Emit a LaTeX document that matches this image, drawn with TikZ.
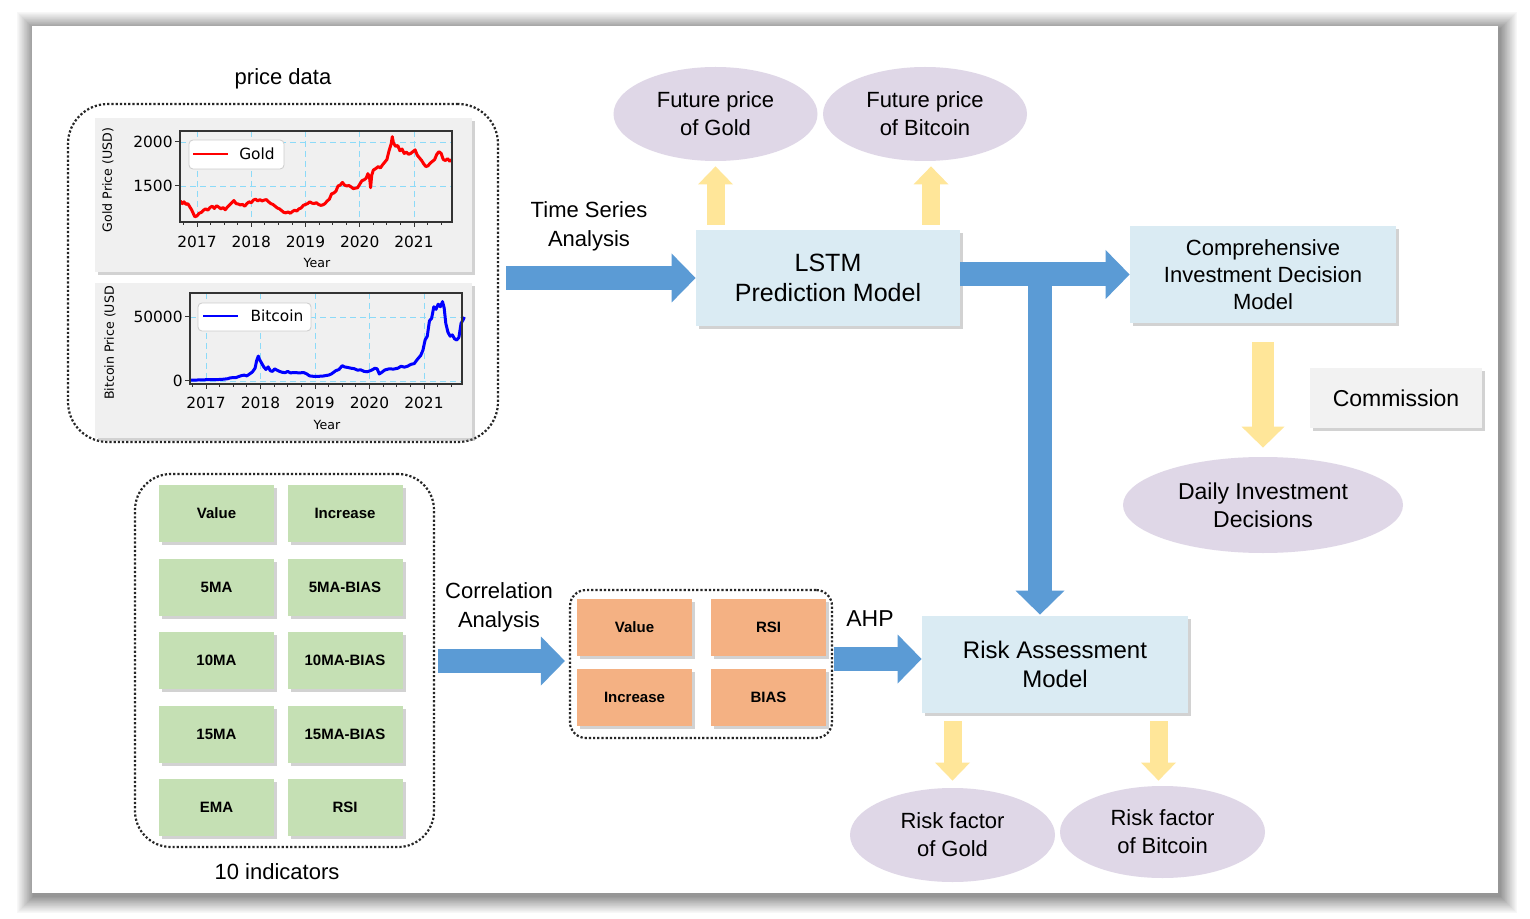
\documentclass[tikz,border=0pt]{standalone}
\usepackage{fontspec}
\setmainfont{Liberation Sans}
\newfontfamily\plotfont{DejaVu Sans}
\usetikzlibrary{shapes.geometric, arrows.meta, positioning, shadows}

\definecolor{indgreen}{HTML}{C5E0B4}
\definecolor{selorange}{HTML}{F4B183}
\definecolor{modelblue}{HTML}{DAEBF3}
\definecolor{outpurple}{HTML}{DFD7E7}
\definecolor{arrowblue}{HTML}{5B9BD5}
\definecolor{arrowyellow}{HTML}{FFE699}
\definecolor{commgray}{HTML}{F2F2F2}
\definecolor{panelgray}{HTML}{F0F0F0}

\begin{document}
\begin{tikzpicture}[x=0.5pt, y=-0.5pt,
    boxshadow/.style={drop shadow={shadow xshift=1.5pt, shadow yshift=-1.5pt, opacity=0.35}},
    dotbox/.style={draw=black!85, densely dotted, line width=1.1pt, inner sep=0pt},
    panel/.style={fill=panelgray, boxshadow, inner sep=0pt, minimum width=188.5pt, minimum height=77pt},
    indbox/.style={fill=indgreen, boxshadow, inner sep=0pt, minimum width=57.5pt, minimum height=28.5pt,
        font=\fontsize{7.5}{9}\selectfont\bfseries},
    selbox/.style={indbox, fill=selorange},
    model/.style={fill=modelblue, boxshadow, inner sep=0pt, minimum width=133pt, minimum height=48.5pt, align=center},
    outcome/.style={ellipse, fill=outpurple, inner sep=0pt, minimum width=102pt, minimum height=47pt,
        align=center, font=\fontsize{11}{14}\selectfont},
    lbl/.style={align=center, font=\fontsize{11}{14.5}\selectfont},
    bluearrow/.style={draw=arrowblue, line width=12pt, -{Triangle[length=12pt, width=24.5pt, line width=0pt]}},
    yellowarrow/.style={draw=arrowyellow, line width=9pt, -{Triangle[length=9pt, width=17.5pt, line width=0pt]}},
    bigyellowarrow/.style={draw=arrowyellow, line width=11pt, -{Triangle[length=10.5pt, width=21.5pt, line width=0pt]}},
    ticklbl/.style={font=\plotfont\fontsize{7.7}{9}\selectfont, inner sep=0pt},
    axlbl/.style={font=\plotfont\fontsize{6.3}{7}\selectfont, inner sep=0pt},
    gridln/.style={cyan!45, densely dashed, line width=0.35pt}]

    \useasboundingbox (0,0) rectangle (1530,919);

    % Page with its shadow
    \foreach \d [evaluate=\d as \c using {int(44-2.4*\d)}] in {18,17,...,1}
        \fill[black!\c] (34-\d,29-\d) rectangle (1500+\d,896+\d);
    \fill[white] (32,26) rectangle (1498,893);

    % Price data
    \node[lbl] (pricelbl) at (283,79) {price data};
    \node[dotbox, rounded corners=20pt, minimum width=215pt, minimum height=169pt] (pricebox) at (283,273) {};

    % Gold price chart
    \node[panel] (goldpanel) at (283.5,195) {};
    \foreach \i in {0,...,4} \draw[gridln] (197+54.25*\i,131) -- (197+54.25*\i,222);
    \foreach \v in {142,186} \draw[gridln] (180,\v) -- (452,\v);
    \begin{scope}[shift={(197,318)}, x=27.125pt, y=0.044pt]
        \draw[red, line width=1.5pt, line join=round] plot coordinates {
            (-0.31,1330) (-0.27,1300) (-0.24,1320) (-0.2,1290) (-0.17,1300) (-0.13,1260) (-0.1,1230)
            (-0.07,1190) (-0.04,1150) (0.0,1160) (0.04,1190) (0.08,1200) (0.12,1225) (0.16,1240)
            (0.2,1225) (0.24,1255) (0.28,1270) (0.32,1245) (0.36,1275) (0.4,1260) (0.44,1240)
            (0.48,1255) (0.52,1230) (0.56,1260) (0.6,1285) (0.64,1310) (0.68,1335) (0.72,1300)
            (0.76,1295) (0.8,1285) (0.84,1290) (0.88,1270) (0.92,1300) (0.96,1320) (1.0,1310)
            (1.04,1340) (1.08,1350) (1.12,1330) (1.16,1345) (1.2,1330) (1.24,1340) (1.28,1345)
            (1.32,1320) (1.36,1300) (1.4,1290) (1.44,1270) (1.48,1250) (1.52,1240) (1.56,1220)
            (1.6,1200) (1.64,1195) (1.68,1205) (1.72,1190) (1.76,1210) (1.8,1225) (1.84,1215)
            (1.88,1240) (1.92,1250) (1.96,1280) (2.0,1290) (2.04,1300) (2.08,1320) (2.12,1305)
            (2.16,1300) (2.2,1310) (2.24,1290) (2.28,1280) (2.32,1285) (2.36,1300) (2.4,1330)
            (2.44,1350) (2.48,1410) (2.52,1420) (2.56,1440) (2.6,1500) (2.64,1510) (2.68,1540)
            (2.72,1510) (2.76,1500) (2.8,1505) (2.84,1490) (2.88,1470) (2.92,1475) (2.96,1480)
            (3.0,1520) (3.04,1560) (3.08,1570) (3.12,1590) (3.15,1640) (3.18,1600) (3.2,1480)
            (3.22,1620) (3.25,1680) (3.3,1700) (3.34,1720) (3.38,1705) (3.42,1740) (3.46,1770)
            (3.5,1800) (3.54,1900) (3.58,1980) (3.6,2060) (3.62,1990) (3.66,1950) (3.7,1960)
            (3.74,1900) (3.78,1920) (3.82,1870) (3.86,1885) (3.9,1860) (3.94,1870) (3.98,1890)
            (4.02,1910) (4.06,1850) (4.1,1820) (4.14,1790) (4.18,1750) (4.22,1720) (4.26,1730)
            (4.3,1760) (4.34,1780) (4.38,1800) (4.42,1860) (4.46,1890) (4.5,1870) (4.54,1800)
            (4.58,1790) (4.62,1810) (4.66,1780) (4.7,1800)};
    \end{scope}
    \draw[black!80, line width=0.6pt] (180,131) rectangle (452,222);
    \foreach \i in {-1,...,18} \draw[black!80, line width=0.4pt] (197+13.5625*\i,222) -- ++(0,3);
    \foreach \yr [count=\i from 0] in {2017,...,2021} {
        \draw[black!80, line width=0.5pt] (197+54.25*\i,222) -- ++(0,5);
        \node[ticklbl] at (197+54.25*\i,242) {\yr};
    }
    \foreach \v/\t in {142/2000, 186/1500} {
        \draw[black!80, line width=0.5pt] (180,\v) -- ++(-5,0);
        \node[ticklbl, anchor=east] at (173,\v) {\t};
    }
    \draw[black!20, fill=white, rounded corners=2pt, line width=0.4pt] (189,140) rectangle (284,169);
    \draw[red, line width=1pt] (193,154) -- (228,154);
    \node[ticklbl] at (257,154) {Gold};
    \node[axlbl] at (317,263) {Year};
    \node[axlbl, rotate=90] at (108,180) {Gold Price (USD)};

    % Bitcoin price chart
    \node[panel, minimum height=77.5pt] (btcpanel) at (283.5,360.5) {};
    \foreach \i in {0,...,4} \draw[gridln] (206+54.5*\i,293) -- (206+54.5*\i,384);
    \foreach \v in {317,381} \draw[gridln] (190,\v) -- (462,\v);
    \begin{scope}[shift={(206,381)}, x=27.25pt, y=0.64pt]
        \draw[blue, line width=1.5pt, line join=round] plot coordinates {
            (-0.29,0.6) (0,1.0) (0.2,1.1) (0.3,1.3) (0.4,1.8) (0.45,2.5) (0.55,2.7) (0.65,4.2)
            (0.7,4.6) (0.75,4.0) (0.8,5.5) (0.85,7) (0.9,10) (0.93,16) (0.96,19.5) (0.98,17)
            (1.02,14) (1.06,11) (1.1,9) (1.14,11) (1.18,8) (1.22,7.5) (1.26,9.5) (1.3,8.5)
            (1.35,7.5) (1.4,6.8) (1.45,6.5) (1.5,7.5) (1.55,6.3) (1.6,6.6) (1.7,6.4) (1.8,6.5)
            (1.85,5.5) (1.9,4) (1.96,3.7) (2.05,3.6) (2.15,3.9) (2.25,4.6) (2.3,5.5) (2.38,8)
            (2.44,9) (2.5,12) (2.54,11) (2.6,10.6) (2.66,10) (2.72,9.6) (2.78,8.5) (2.84,8.7)
            (2.9,7.5) (2.96,7.2) (3.04,8.5) (3.1,10) (3.14,9.5) (3.18,5.5) (3.22,6.6) (3.28,8.6)
            (3.36,9.5) (3.44,9.3) (3.52,10) (3.58,11.5) (3.64,10.8) (3.7,11.6) (3.76,13)
            (3.82,13.6) (3.88,17) (3.94,20) (3.98,24) (4.02,32) (4.06,35) (4.1,47) (4.14,49)
            (4.18,58) (4.22,56) (4.26,60) (4.3,58) (4.34,62) (4.37,57) (4.4,45) (4.44,38)
            (4.48,35) (4.52,36) (4.56,33) (4.6,32) (4.64,34) (4.68,45) (4.72,48) (4.74,50)};
    \end{scope}
    \draw[black!80, line width=0.6pt] (190,293) rectangle (462,384);
    \foreach \i in {-1,...,18} \draw[black!80, line width=0.4pt] (206+13.625*\i,384) -- ++(0,3);
    \foreach \yr [count=\i from 0] in {2017,...,2021} {
        \draw[black!80, line width=0.5pt] (206+54.5*\i,384) -- ++(0,5);
        \node[ticklbl] at (206+54.5*\i,403) {\yr};
    }
    \foreach \v/\t in {317/50000, 381/0} {
        \draw[black!80, line width=0.5pt] (190,\v) -- ++(-5,0);
        \node[ticklbl, anchor=east] at (183,\v) {\t};
    }
    \draw[black!20, fill=white, rounded corners=2pt, line width=0.4pt] (198,303) rectangle (311,331);
    \draw[blue, line width=1pt] (203,316) -- (238,316);
    \node[ticklbl] at (277,316) {Bitcoin};
    \node[axlbl] at (327,425) {Year};
    \node[axlbl, rotate=90] at (110,343) {Bitcoin Price (USD};

    % Ten indicators
    \node[dotbox, rounded corners=18pt, minimum width=149.5pt, minimum height=186.5pt] (indbox) at (284.5,660.5) {};
    \foreach \l/\r [count=\i from 0] in {Value/Increase, 5MA/5MA-BIAS, 10MA/10MA-BIAS, 15MA/15MA-BIAS, EMA/RSI} {
        \node[indbox] (indl\i) at (216.5,513.5+73.5*\i) {\l};
        \node[indbox] (indr\i) at (345,513.5+73.5*\i) {\r};
    }
    \node[lbl] (indlbl) at (277,872) {10 indicators};

    % Selected indicators
    \node[dotbox, rounded corners=8pt, minimum width=131pt, minimum height=74pt] (selbox) at (701,664) {};
    \node[selbox] (selvalue) at (634.5,627.5) {Value};
    \node[selbox] (selrsi) at (768.5,627.5) {RSI};
    \node[selbox] (selinc) at (634.5,697) {Increase};
    \node[selbox] (selbias) at (768.5,697) {BIAS};

    % Models
    \node[model, minimum width=132pt, minimum height=48pt, font=\fontsize{12.5}{15}\selectfont] (lstm) at (828,278)
        {LSTM\\Prediction Model};
    \node[model, font=\fontsize{11}{13.5}\selectfont] (comp) at (1263,274.5)
        {Comprehensive\\Investment Decision\\Model};
    \node[model, font=\fontsize{12}{14.5}\selectfont] (risk) at (1055,664.5) {Risk Assessment\\Model};
    \node[fill=commgray, boxshadow, inner sep=0pt, minimum width=86pt, minimum height=30pt,
        font=\fontsize{11.5}{14}\selectfont] (commission) at (1396,398) {Commission};

    % Outcomes
    \node[outcome] (fgold) at (715.5,114) {Future price\\of Gold};
    \node[outcome] (fbtc) at (925,114) {Future price\\of Bitcoin};
    \node[outcome, minimum width=140pt, minimum height=48pt, font=\fontsize{11.5}{14}\selectfont] (daily) at (1263,505)
        {Daily Investment\\Decisions};
    \node[outcome, minimum width=102.5pt] (rgold) at (952.5,835) {Risk factor\\of Gold};
    \node[outcome, minimum width=102.5pt, minimum height=46pt] (rbtc) at (1162.5,832) {Risk factor\\of Bitcoin};

    % Method labels
    \node[lbl] (tslbl) at (589,226) {Time Series\\Analysis};
    \node[lbl] (corrlbl) at (499,607) {Correlation\\Analysis};
    \node[lbl, font=\fontsize{11.5}{14}\selectfont] (ahplbl) at (870,619) {AHP};

    % Blue arrows
    \draw[bluearrow] ([xshift=3.5pt]pricebox.east |- lstm.west) -- (lstm.west);
    \draw[bluearrow] (lstm.east |- comp.west) -- (comp.west);
    \coordinate (branch) at (1040,264);
    \draw[bluearrow] (branch) -- ([yshift=0.5pt]branch |- risk.north);
    \draw[bluearrow] ([xshift=1.5pt, yshift=1.5pt]indbox.east |- selbox.west) -- ([xshift=-2pt, yshift=1.5pt]selbox.west);
    \draw[bluearrow] ([xshift=0.5pt, yshift=2.5pt]selbox.east) -- ([yshift=2.5pt]selbox.east -| risk.west);

    % Yellow arrows
    \draw[yellowarrow] ([yshift=2.5pt]lstm.north -| fgold.south) -- ([yshift=-2.5pt]fgold.south);
    \draw[yellowarrow] ([xshift=3pt, yshift=2.5pt]lstm.north -| fbtc.south) -- ([xshift=3pt, yshift=-2.5pt]fbtc.south);
    \draw[bigyellowarrow] ([yshift=-9.5pt]comp.south) -- ([yshift=4.5pt]daily.north);
    \draw[yellowarrow] ([yshift=-4pt]risk.south -| rgold.north) -- ([yshift=3.5pt]rgold.north);
    \draw[yellowarrow] ([xshift=-2pt, yshift=-4pt]risk.south -| rbtc.north) -- ([xshift=-2pt, yshift=2.5pt]rbtc.north);
\end{tikzpicture}
\end{document}
